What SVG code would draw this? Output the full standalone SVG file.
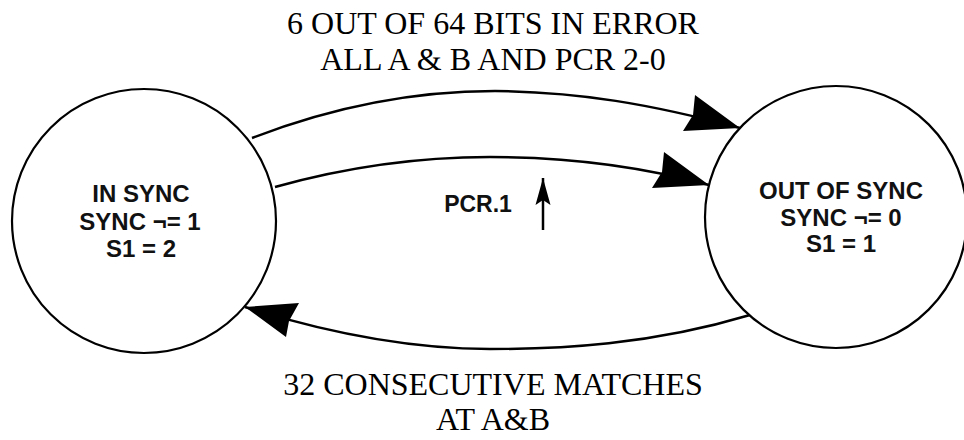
<svg xmlns="http://www.w3.org/2000/svg" width="964" height="440" viewBox="0 0 964 440">
<style>
.state{fill:#fff;stroke:#000;stroke-width:2.2}
.st{font-family:"Liberation Sans",Arial,sans-serif;font-weight:bold;font-size:24px;fill:#111;text-anchor:middle}
.lbl{font-family:"Liberation Serif","Times New Roman",serif;font-size:32px;fill:#000;text-anchor:middle}
.edge{fill:none;stroke:#000;stroke-width:2.5}
</style>
<defs>
<marker id="ahR" markerUnits="userSpaceOnUse" viewBox="-60 -36 62 42" refX="0" refY="0" markerWidth="62" markerHeight="42" orient="0">
<path d="M0,0 L-45,-33 L-47,-13 L-57,3 Z" fill="#000"/>
</marker>
<marker id="ahL" markerUnits="userSpaceOnUse" viewBox="-2 -8 58 40" refX="0" refY="0" markerWidth="58" markerHeight="40" orient="0">
<path d="M0,0 L54,-4 L44,14 L41,30 Z" fill="#000"/>
</marker>
<marker id="small" markerUnits="userSpaceOnUse" viewBox="-28 -9 30 18" refX="0" refY="0" markerWidth="30" markerHeight="18" orient="auto">
<path d="M0,0 L-27,-7.5 L-22,0 L-27,7.5 Z" fill="#000"/>
</marker>
</defs>
<rect width="964" height="440" fill="#fff"/>
<g id="edges">
<path class="edge" d="M252,138 C340,104 420,91 495,91 C580,92 650,104 740,128" marker-end="url(#ahR)"/>
<path class="edge" d="M275,187 C350,166 420,157 490,157 C570,157 640,166 709,185" marker-end="url(#ahR)"/>
<path class="edge" d="M750,315 C650,345 560,349 490,349 C420,349 340,337 245,307" marker-end="url(#ahL)"/>
</g>
<g id="in-sync">
<circle class="state" cx="144" cy="221" r="132"/>
<text class="st" x="141" y="202">IN SYNC</text>
<text class="st" x="140" y="230">SYNC ¬= 1</text>
<text class="st" x="141" y="257">S1 = 2</text>
</g>
<g id="out-of-sync">
<circle class="state" cx="836" cy="217" r="131"/>
<text class="st" x="841" y="199">OUT OF SYNC</text>
<text class="st" x="841" y="226">SYNC ¬= 0</text>
<text class="st" x="841" y="252">S1 = 1</text>
</g>
<g id="pcr1">
<text class="st" x="478" y="212" style="font-size:23px">PCR.1</text>
<path class="edge" d="M543,230 L543,178" marker-end="url(#small)"/>
</g>
<g id="labels">
<text class="lbl" x="493" y="34">6 OUT OF 64 BITS IN ERROR</text>
<text class="lbl" x="493" y="70">ALL A &amp; B AND PCR 2-0</text>
<text class="lbl" x="493" y="395">32 CONSECUTIVE MATCHES</text>
<text class="lbl" x="493" y="430">AT A&amp;B</text>
</g>
</svg>
